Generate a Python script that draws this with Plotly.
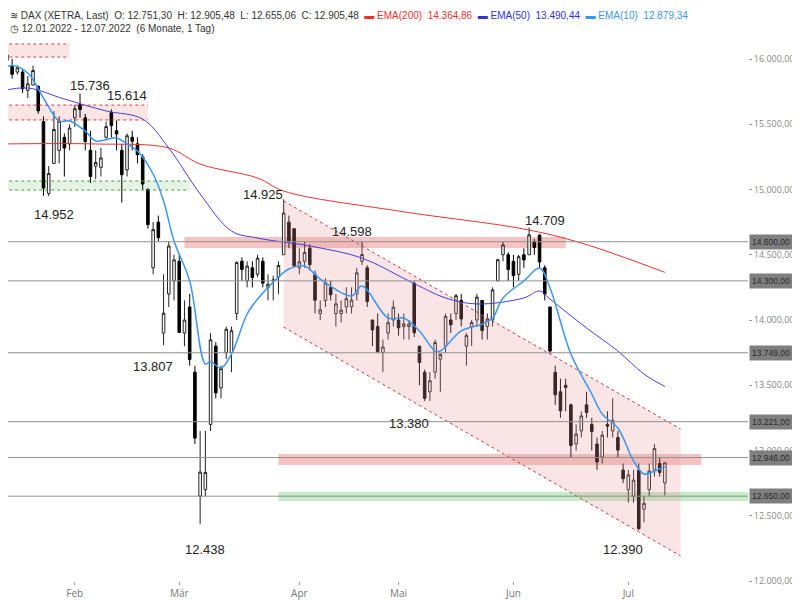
import plotly.graph_objects as go
import pandas as pd

holidays = ["2022-04-15", "2022-04-18"]
dates = [d.strftime("%Y-%m-%d") for d in pd.bdate_range("2022-01-12", "2022-07-12") if d.strftime("%Y-%m-%d") not in holidays]

ohlc = [
(16040,16080,15960,16010),(15990,16100,15980,16031),(15950,16000,15850,15883),(15900,15950,15880,15933),
(15900,15920,15740,15772),(15760,15870,15700,15810),(15800,15950,15800,15912),(15790,15800,15580,15603),
(15520,15560,14952,15011),(14970,15180,14950,15123),(15200,15600,15200,15460),(15300,15560,15200,15524),
(15400,15430,15100,15318),(15350,15500,15300,15471),(15550,15650,15480,15619),(15650,15736,15550,15613),
(15550,15580,15300,15368),(15300,15450,15050,15100),(15180,15300,15080,15207),(15170,15320,15100,15242),
(15400,15520,15390,15482),(15590,15614,15400,15490),(15450,15530,15300,15425),(15300,15350,14900,15113),
(15150,15430,15100,15412),(15400,15450,15300,15370),(15350,15400,15200,15267),(15250,15270,15000,15042),
(15000,15010,14700,14731),(14400,14750,14350,14693),(14750,14800,14600,14631),(13900,14350,13807,14052),
(14200,14600,14100,14567),(14300,14500,14150,14461),(14450,14500,13900,13905),(13900,14150,13800,14000),
(14100,14200,13650,13698),(13600,13650,13050,13095),(12650,13150,12438,12835),(12700,13150,12650,12832),
(13200,13900,13150,13848),(13800,13830,13400,13442),(13480,13650,13400,13628),(13750,13950,13700,13929),
(13750,13950,13600,13918),(14050,14450,14000,14441),(14450,14480,14300,14388),(14300,14450,14250,14413),
(14400,14450,14250,14326),(14350,14500,14330,14474),(14450,14480,14250,14283),(14250,14350,14150,14274),
(14300,14340,14150,14306),(14330,14450,14200,14418),(14500,14925,14500,14820),(14750,14800,14550,14606),
(14700,14700,14400,14415),(14400,14550,14350,14446),(14450,14600,14400,14518),(14550,14580,14380,14424),
(14350,14380,14050,14152),(14050,14150,14000,14078),(14150,14320,14100,14284),(14250,14300,14150,14193),
(14050,14200,13950,14124),(14050,14150,13980,14076),(14100,14250,14050,14164),(14100,14250,14050,14153),
(14200,14400,14150,14362),(14450,14598,14420,14502),(14400,14420,14100,14142),(14000,14000,13800,13924),
(13950,14050,13750,13756),(13750,13850,13600,13793),(13900,14050,13850,13979),(14000,14150,13950,14098),
(14000,14050,13880,13940),(13950,14050,13850,13970),(13950,14000,13850,13970),(14280,14300,13870,13903),
(13800,13800,13500,13674),(13600,13620,13380,13400),(13450,13600,13380,13535),(13600,13850,13550,13828),
(13700,13720,13450,13739),(13800,14050,13750,14028),(14000,14050,13900,13964),(14050,14200,14000,14186),
(14150,14200,13950,14008),(13800,13900,13650,13882),(13950,14000,13800,13981),(14000,14200,13950,14175),
(14150,14150,13850,13919),(13950,14050,13850,14008),(14000,14250,13950,14231),(14300,14470,14300,14462),
(14500,14600,14450,14575),(14500,14520,14300,14388),(14450,14500,14250,14340),(14350,14500,14300,14485),
(14500,14550,14400,14460),(14500,14709,14500,14653),(14600,14620,14500,14556),(14650,14660,14400,14445),
(14400,14420,14150,14199),(14100,14100,13740,13762),(13600,13650,13350,13427),(13450,13550,13250,13304),
(13500,13550,13300,13483),(13350,13360,12950,13038),(13050,13200,13000,13126),(13150,13300,13100,13265),
(13350,13450,13250,13292),(13200,13250,13000,13145),(13050,13100,12850,12912),(12950,13150,12900,13118),
(13200,13300,13100,13186),(13150,13400,13100,13231),(13100,13150,12950,13003),(12850,12900,12750,12784),
(12700,12850,12600,12813),(12650,12850,12600,12773),(12850,12900,12390,12401),(12550,12650,12450,12595),
(12700,12900,12650,12843),(12850,13050,12800,13015),(12900,12950,12800,12832),(12751.30,12905.48,12655.06,12905.48),
]
opens = [r[0] for r in ohlc]; highs = [r[1] for r in ohlc]; lows = [r[2] for r in ohlc]; closes = [r[3] for r in ohlc]

ema10_idx = [0,2,5,8,11,13,16,18,22,24,26,29,31,33,36,39,40,42,44,47,49,53,55,58,61,67,69,74,77,80,83,84,88,92,94,96,100,103,105,109,113,115,118,121,123,125,127]
ema10_val = [15923,15950,15893,15701,15525,15525,15448,15372,15395,15349,15295,15119,14912,14605,14299,13663,13680,13632,13739,14046,14161,14330,14391,14414,14314,14184,14260,14015,14015,13916,13762,13762,13916,13969,14015,14169,14299,14398,14245,13739,13433,13280,13172,12920,12820,12843,12879]
ema50_idx = [0,5,12,20,27,32,38,44,49,59,69,78,85,91,100,103,105,112,118,123,127]
ema50_val = [15755,15778,15693,15602,15540,15318,14966,14682,14628,14567,14475,14299,14169,14123,14169,14222,14160,13939,13762,13586,13490]
ema200_idx = [0,18,32,38,49,54,76,100,111,127]
ema200_val = [15349,15349,15318,15195,15088,14988,14835,14697,14590,14365]

levels = [14600, 14300, 13749, 13221, 12946, 12650]
level_labels = ["14.600,00", "14.300,00", "13.749,00", "13.221,00", "12.946,00", "12.650,00"]

peak_x = ["2022-02-04", "2022-02-15", "2022-01-26", "2022-02-22", "2022-03-08", "2022-03-23", "2022-04-19", "2022-06-09", "2022-05-04", "2022-06-30"]
peak_y = [15800, 15720, 14810, 13640, 12240, 14960, 14680, 14760, 13210, 12240]
peak_text = ["15.736", "15.614", "14.952", "13.807", "12.438", "14.925", "14.598", "14.709", "13.380", "12.390"]

channel_x = ["2022-03-29", "2022-07-15", "2022-07-15", "2022-03-29", "2022-03-29"]
channel_y = [14912, 13165, 12192, 13946, 14912]

fig = go.Figure()
fig.add_trace(go.Scatter(x=channel_x, y=channel_y, fill="toself", fillcolor="rgba(230,150,150,0.25)",
                         mode="lines", line=dict(width=0), hoverinfo="skip"))
for xs, ys in [((channel_x[0], channel_x[1]), (channel_y[0], channel_y[1])), ((channel_x[3], channel_x[2]), (channel_y[3], channel_y[2]))]:
    fig.add_trace(go.Scatter(x=list(xs), y=list(ys), mode="lines", line=dict(color="#d04040", width=1, dash="dot")))

def band(x0, x1, y0, y1, fill):
    fig.add_shape(type="rect", x0=x0, x1=x1, y0=y0, y1=y1, xref="x", yref="y", fillcolor=fill,
                  line=dict(width=0), layer="below")

band("2022-01-10", "2022-01-31", 16015, 16115, "rgba(240,180,180,0.35)")
band("2022-01-10", "2022-02-21", 15533, 15647, "rgba(240,180,180,0.35)")
band("2022-01-10", "2022-03-03", 14996, 15065, "rgba(180,220,180,0.35)")
band("2022-03-02", "2022-06-15", 14552, 14636, "rgba(235,120,120,0.45)")
band("2022-03-28", "2022-07-21", 12889, 12973, "rgba(235,120,120,0.45)")
band("2022-03-28", "2022-08-05", 12613, 12682, "rgba(140,220,140,0.5)")
for x1, ya, yb, c in [("2022-01-31", 16015, 16115, "#d04040"), ("2022-02-21", 15533, 15647, "#d04040"), ("2022-03-03", 14996, 15065, "#40a040")]:
    for yv in (ya, yb):
        fig.add_shape(type="line", x0="2022-01-10", x1=x1, y0=yv, y1=yv, line=dict(color=c, width=1, dash="dot"))
for lv in levels:
    fig.add_shape(type="line", xref="paper", x0=0, x1=1, y0=lv, y1=lv, line=dict(color="#909090", width=1))

fig.add_trace(go.Scatter(x=[dates[i] for i in ema200_idx], y=ema200_val, mode="lines", line=dict(color="#f03030", width=1, shape="spline")))
fig.add_trace(go.Scatter(x=[dates[i] for i in ema50_idx], y=ema50_val, mode="lines", line=dict(color="#4a3ae0", width=1, shape="spline")))
fig.add_trace(go.Candlestick(x=dates, open=opens, high=highs, low=lows, close=closes, whiskerwidth=0,
    increasing=dict(line=dict(color="#222", width=1), fillcolor="white"),
    decreasing=dict(line=dict(color="#000", width=1), fillcolor="black")))
fig.add_trace(go.Scatter(x=[dates[i] for i in ema10_idx], y=ema10_val, mode="lines", line=dict(color="#3a96ee", width=1.5, shape="spline")))

for d, yv, t in zip(peak_x, peak_y, peak_text):
    fig.add_annotation(x=d, y=yv, text=t, showarrow=False, font=dict(size=13, color="#222", family="Arial"))

for lv, t in zip(levels, level_labels):
    fig.add_annotation(xref="paper", x=1, y=lv, text=t, showarrow=False, xanchor="left", xshift=1,
                       bgcolor="#7f7f7f", font=dict(size=8.5, color="#2a2a2a", family="Arial"), borderpad=2)

fig.add_annotation(xref="paper", yref="paper", x=0, y=1, xanchor="left", yanchor="top", showarrow=False, align="left",
    text="≋ DAX (XETRA, Last)  O: 12.751,30  H: 12.905,48  L: 12.655,06  C: 12.905,48  "
         "<span style='color:#f03030'>▬ EMA(200)  14.364,86</span>  <span style='color:#3030e0'>▬ EMA(50)  13.490,44</span>  "
         "<span style='color:#3a96ee'>▬ EMA(10)  12.879,34</span><br>◷ 12.01.2022 - 12.07.2022  (6 Monate, 1 Tag)",
    font=dict(size=10, color="#333", family="Arial"))

fig.update_layout(width=800, height=600, margin=dict(l=0, r=60, t=0, b=27), paper_bgcolor="white", plot_bgcolor="white",
    showlegend=False, separators=",.",
    xaxis=dict(range=["2022-01-13 05:00", "2022-08-02 22:00"], rangeslider=dict(visible=False), showgrid=False,
               rangebreaks=[dict(bounds=["sat", "mon"]), dict(values=holidays)],
               tickvals=["2022-02-01", "2022-03-01", "2022-04-01", "2022-05-02", "2022-06-01", "2022-07-01"],
               ticktext=["Feb", "Mär", "Apr", "Mai", "Jun", "Jul"], tickfont=dict(size=10, color="#777"),
               ticks="outside", ticklen=3, tickcolor="#999", zeroline=False),
    yaxis=dict(side="right", range=[12000, 16391], showgrid=False, tickvals=[12000,12500,13000,13500,14000,14500,15000,15500,16000],
               tickformat=",.2f", tickfont=dict(size=9, color="#888"), ticks="outside", ticklen=3, tickcolor="#999", zeroline=False))
fig.write_html("out.html")
